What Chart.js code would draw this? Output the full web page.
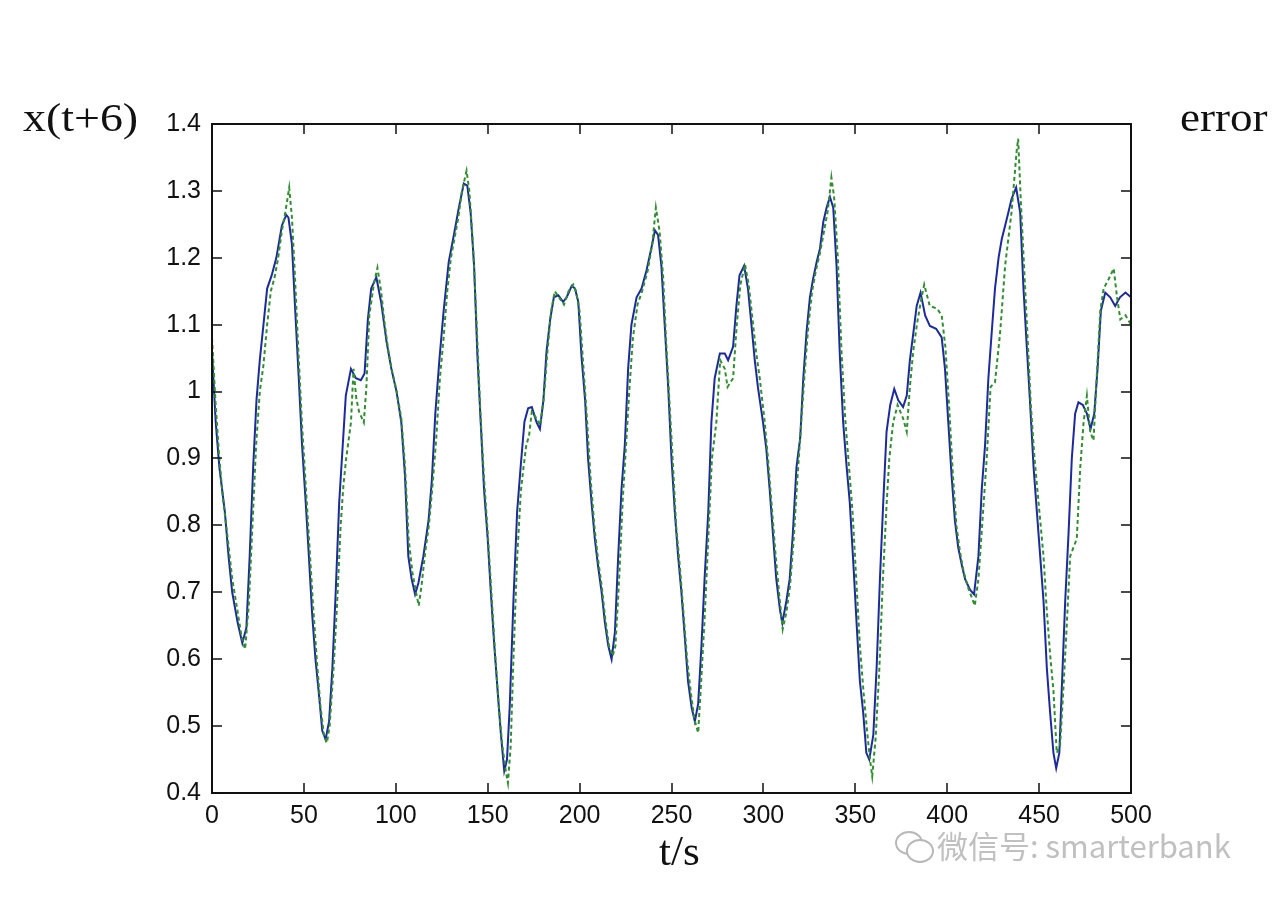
<!DOCTYPE html>
<html lang="en">
<head>
    <meta charset="UTF-8">
    <title>x(t+6) prediction</title>
    <script src="https://cdn.jsdelivr.net/npm/chart.js"></script>
    <style>
        body { margin: 0; background: #fff; }
        canvas { display: block; }
    </style>
</head>
<body>
    <canvas id="chart" width="1280" height="901"></canvas>
    <script>
        // actual series (solid blue)
        const actualT = [0,2,4,7,9,11,14,16.5,18.7,20.5,22.4,24.2,26,28,30,32.5,35,38,40.4,41.6,43.5,45.3,47.2,49,51,52.7,54.5,56.3,58.2,60,61.8,63.7,65.5,67.3,69.2,71,72.8,75.6,78.3,81,83,84.8,86.6,89.4,92,95,97.6,100.4,103,105,106.8,108.6,110.5,112.3,115,117.8,119.6,121.5,123.7,126,128.8,131.6,134.3,137,138.9,140.7,142.6,144.4,146.2,148,150,151.7,153.6,155.4,157.2,159,160.5,162,164,166,168,170,172,174,176.6,178.4,180.3,182,184,186,188.4,191,193,195.7,197.5,199.3,201,203,204.6,206.5,208.3,210,212,213.8,215.6,217.4,219.2,221,222.8,224.6,226.4,228.2,231,233.7,236.4,239,241,242.7,244.5,246.3,248.2,250,251.8,253.6,255.4,257.2,259,261,262.7,264.5,266.3,268,270,271.7,273.5,276.3,279,280.8,283.5,285.3,287,289.5,291.6,293.5,295.3,297,299.8,301.6,303.4,305.2,307,309,310.3,312.5,314.3,316,318,320,321.7,323.5,325.3,327,329,330.8,332.6,334.4,336.2,338,339.8,341.6,343.4,345.3,347,349,350.7,352.5,354.3,356,357.6,359.8,361.6,363.4,365.2,367,369,371.2,373.4,376,378,379.7,381.6,383.4,385.5,388,390.6,394,397,398.8,400.6,402.4,404.2,406,408,409.7,412.4,414.6,417,418.8,420.6,422.4,424.2,426,428,429.7,431.5,433.3,435,437.5,439.7,441.5,443.3,445,447,448.8,450.6,452.4,454.2,456,457.8,459.3,461,462.3,464.2,466,467.8,469.6,471.4,473.8,476,478,480,481.8,483.6,486,488.7,491.4,494,497,500];
        const actualV = [1.06,0.955,0.887,0.82,0.754,0.70,0.654,0.624,0.647,0.754,0.887,0.987,1.047,1.10,1.154,1.174,1.20,1.248,1.264,1.26,1.22,1.12,1.02,0.92,0.834,0.754,0.667,0.60,0.547,0.493,0.48,0.507,0.587,0.70,0.834,0.914,0.994,1.034,1.02,1.017,1.027,1.108,1.154,1.171,1.134,1.074,1.034,1.0,0.954,0.874,0.754,0.72,0.697,0.714,0.754,0.807,0.867,0.967,1.047,1.12,1.194,1.234,1.275,1.311,1.308,1.268,1.188,1.054,0.954,0.854,0.78,0.70,0.62,0.553,0.487,0.433,0.45,0.53,0.687,0.82,0.89,0.955,0.975,0.977,0.954,0.944,0.987,1.06,1.108,1.141,1.144,1.134,1.141,1.158,1.154,1.134,1.054,0.987,0.90,0.834,0.78,0.74,0.70,0.654,0.62,0.60,0.64,0.754,0.854,0.92,1.034,1.10,1.141,1.154,1.181,1.214,1.241,1.234,1.188,1.10,1.007,0.90,0.82,0.754,0.70,0.634,0.567,0.527,0.507,0.533,0.62,0.72,0.82,0.954,1.02,1.057,1.057,1.047,1.067,1.128,1.174,1.188,1.154,1.10,1.047,1.007,0.954,0.914,0.854,0.787,0.72,0.674,0.654,0.687,0.72,0.787,0.887,0.93,1.02,1.09,1.141,1.168,1.194,1.214,1.254,1.275,1.291,1.275,1.188,1.054,0.954,0.887,0.834,0.74,0.654,0.567,0.52,0.46,0.45,0.487,0.587,0.72,0.834,0.94,0.98,1.004,0.987,0.977,0.994,1.047,1.088,1.128,1.148,1.114,1.098,1.094,1.081,1.034,0.954,0.874,0.807,0.767,0.74,0.72,0.704,0.697,0.754,0.854,0.92,1.02,1.088,1.154,1.201,1.228,1.248,1.268,1.288,1.305,1.268,1.154,1.067,0.987,0.887,0.82,0.754,0.687,0.587,0.52,0.46,0.437,0.46,0.553,0.687,0.787,0.90,0.967,0.984,0.98,0.967,0.944,0.967,1.034,1.121,1.148,1.141,1.128,1.141,1.148,1.141];

        // predicted series (dashed green)
        const predT = [0,2,4,6,9,11,14,16,18,20,22,24,26,28,30,32,34,36,38,40,42,43.5,45,47,49,51,53,55,57,59,61,62.5,64,66,68,70,71.5,73,75.6,77,78.5,80,82.6,84,85.6,88,90,92,94,96,98,100.5,103,105,107,109,111,112.5,114,116,118,120,122,124,126,128,130,132,134,136,138.5,140,142,144,146,148,150,152,154,156,158,160,161,162.5,164,166,168,169.5,171,172.5,174,176.5,178.5,180.5,182.5,184.5,186.5,189,191.5,194,196.5,198,200,202,204,206,208,210,212,214,216,218,219.5,221.5,223.5,225.5,227,229,231.5,234,237,239.5,241.5,243.5,245.5,247,249,251,252.5,254.5,256.5,258.5,260.5,262.5,264.5,266,268,270,272,274.4,276.5,279,280.5,283.5,285.5,287.5,290,292,294,296,298,300.5,302.5,304.5,306.5,308.5,310.5,312.5,314.5,316.5,318.5,320.5,322.5,324.5,326.5,328.5,331,333,335,337,338.5,340.5,342.5,344.5,346.5,348.5,350.5,352.5,354.5,356.5,358,359.2,361,363,365,367,368.5,370.6,373,376,378,379.7,381.5,383.5,386,387.5,390.5,394.5,397,399,401,403,405,407,409,411,413,415,417,419,421.5,423.6,426,428.8,431.5,435,437.8,438.6,440,441.8,443.6,445.5,447.5,449.5,452.4,454,456,457.8,459.6,461.4,463.3,465.1,466.9,468.7,470.5,472.4,474.2,476,477.8,479.6,481.5,483.3,485.1,487.8,490.6,492.4,494.2,497,500];
        const predV = [1.08,0.98,0.90,0.84,0.77,0.72,0.67,0.635,0.615,0.68,0.80,0.92,1.00,1.04,1.10,1.15,1.17,1.20,1.24,1.27,1.305,1.26,1.18,1.06,0.95,0.86,0.77,0.68,0.60,0.53,0.485,0.475,0.50,0.58,0.68,0.80,0.86,0.90,0.954,1.034,0.99,0.97,0.954,1.007,1.114,1.16,1.185,1.15,1.10,1.06,1.03,1.0,0.96,0.89,0.78,0.73,0.70,0.68,0.71,0.76,0.80,0.86,0.93,1.02,1.08,1.15,1.20,1.23,1.26,1.30,1.33,1.30,1.22,1.10,0.97,0.87,0.79,0.70,0.61,0.53,0.47,0.43,0.415,0.47,0.60,0.75,0.85,0.887,0.92,0.934,0.97,0.96,0.95,0.99,1.06,1.12,1.15,1.14,1.13,1.15,1.16,1.15,1.12,1.04,0.96,0.87,0.80,0.75,0.71,0.66,0.62,0.605,0.62,0.72,0.84,0.93,1.00,1.08,1.13,1.15,1.18,1.22,1.275,1.24,1.17,1.08,0.98,0.88,0.80,0.74,0.67,0.60,0.55,0.51,0.49,0.56,0.66,0.78,0.90,0.954,1.047,1.034,1.007,1.02,1.10,1.16,1.19,1.16,1.11,1.06,1.02,0.96,0.90,0.83,0.76,0.70,0.645,0.67,0.71,0.78,0.87,0.95,1.03,1.10,1.15,1.18,1.21,1.24,1.27,1.32,1.29,1.20,1.06,0.96,0.89,0.82,0.72,0.62,0.55,0.49,0.45,0.425,0.48,0.58,0.72,0.83,0.90,0.954,0.98,0.96,0.94,1.007,1.06,1.10,1.14,1.16,1.128,1.124,1.114,1.067,0.98,0.88,0.80,0.76,0.73,0.71,0.695,0.68,0.72,0.80,0.90,1.007,1.014,1.088,1.188,1.268,1.36,1.378,1.288,1.188,1.088,0.98,0.90,0.84,0.754,0.68,0.607,0.553,0.46,0.47,0.56,0.654,0.754,0.767,0.78,0.887,0.954,0.994,0.94,0.927,1.03,1.121,1.154,1.168,1.184,1.141,1.108,1.114,1.10];

        const xTicks = [0,50,100,150,200,250,300,350,400,450,500];
        const yTicks = [0.4,0.5,0.6,0.7,0.8,0.9,1.0,1.1,1.2,1.3,1.4];

        const toPoints = (ts, vs) => ts.map((t, i) => ({ x: t, y: vs[i] }));

        // matlab style frame: box on all sides, ticks pointing inward, plus the loose labels
        const framePlugin = {
            id: 'frame',
            afterDatasetsDraw(chart) {
                const { ctx, chartArea: a, scales } = chart;
                ctx.save();
                ctx.strokeStyle = '#111';
                ctx.lineWidth = 2;
                ctx.strokeRect(a.left, a.top, a.right - a.left, a.bottom - a.top);
                ctx.lineWidth = 1.5;
                ctx.beginPath();
                xTicks.forEach(t => {
                    const x = Math.round(scales.x.getPixelForValue(t));
                    ctx.moveTo(x, a.bottom); ctx.lineTo(x, a.bottom - 10);
                    ctx.moveTo(x, a.top); ctx.lineTo(x, a.top + 10);
                });
                yTicks.forEach(v => {
                    const y = Math.round(scales.y.getPixelForValue(v));
                    ctx.moveTo(a.left, y); ctx.lineTo(a.left + 10, y);
                    ctx.moveTo(a.right, y); ctx.lineTo(a.right - 10, y);
                });
                ctx.stroke();

                ctx.fillStyle = '#111';
                ctx.font = '41px "Liberation Serif", "Times New Roman", serif';
                ctx.textBaseline = 'alphabetic';
                ctx.textAlign = 'left';
                ctx.save();
                ctx.translate(23, 131);
                ctx.scale(1.12, 1);
                ctx.fillText('x(t+6)', 0, 0);
                ctx.restore();
                ctx.save();
                ctx.translate(1180, 131);
                ctx.scale(1.1, 1);
                ctx.fillText('error', 0, 0);
                ctx.restore();
                ctx.font = '43px "Liberation Serif", "Times New Roman", serif';
                ctx.fillText('t/s', 659, 865);

                // watermark
                ctx.strokeStyle = '#b8b8b8';
                ctx.lineWidth = 2;
                ctx.beginPath();
                ctx.ellipse(909, 843, 13, 11, 0, 0, Math.PI * 2);
                ctx.stroke();
                ctx.fillStyle = '#fff';
                ctx.beginPath();
                ctx.ellipse(920, 851, 13, 11, 0, 0, Math.PI * 2);
                ctx.fill();
                ctx.stroke();
                ctx.fillStyle = '#c0c0c0';
                ctx.font = '31px "Noto Sans CJK SC", sans-serif';
                ctx.fillText('微信号: smarterbank', 937, 858);
                ctx.restore();
            }
        };

        new Chart(document.getElementById('chart'), {
            type: 'line',
            data: {
                datasets: [
                    {
                        label: 'x(t+6)',
                        data: toPoints(actualT, actualV),
                        borderColor: '#1c2a9c',
                        borderWidth: 2,
                        pointRadius: 0,
                        tension: 0,
                        order: 2
                    },
                    {
                        label: 'prediction',
                        data: toPoints(predT, predV),
                        borderColor: '#2f8f2f',
                        borderWidth: 2,
                        borderDash: [4, 3],
                        pointRadius: 0,
                        tension: 0,
                        order: 1
                    }
                ]
            },
            options: {
                responsive: false,
                animation: false,
                layout: { padding: { top: 124, right: 149, left: 0, bottom: 0 } },
                plugins: { legend: { display: false }, tooltip: { enabled: false } },
                scales: {
                    x: {
                        type: 'linear',
                        min: 0,
                        max: 500,
                        afterFit: s => { s.height = 108; },
                        afterBuildTicks: s => { s.ticks = xTicks.map(v => ({ value: v })); },
                        grid: { display: false, drawTicks: false },
                        border: { display: false },
                        ticks: {
                            padding: 8,
                            color: '#111',
                            maxRotation: 0,
                            font: { family: '"Liberation Sans", Arial, sans-serif', size: 25 }
                        }
                    },
                    y: {
                        min: 0.4,
                        max: 1.4,
                        afterFit: s => { s.width = 212; },
                        afterBuildTicks: s => { s.ticks = yTicks.map(v => ({ value: v })); },
                        grid: { display: false, drawTicks: false },
                        border: { display: false },
                        ticks: {
                            padding: 11,
                            color: '#111',
                            callback: v => String(Math.round(v * 10) / 10),
                            font: { family: '"Liberation Sans", Arial, sans-serif', size: 25 }
                        }
                    }
                }
            },
            plugins: [framePlugin]
        });
    </script>
</body>
</html>
